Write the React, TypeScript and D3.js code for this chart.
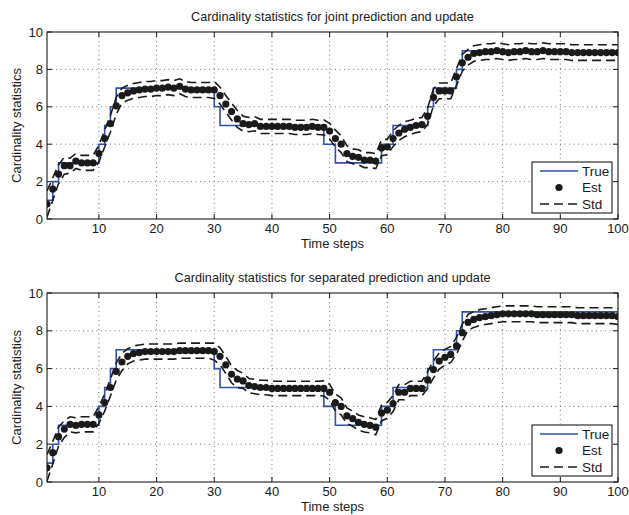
import React, { useRef, useEffect } from "react";
import * as d3 from "d3";

const W = 629;
const H = 515;

// true cardinality (same ground truth in both runs), t = 1..100
const trueCard = [
  1, 2, 3, 3, 3, 3, 3, 3, 3, 4,
  5, 6, 7, 7, 7, 7, 7, 7, 7, 7,
  7, 7, 7, 7, 7, 7, 7, 7, 7, 6,
  5, 5, 5, 5, 5, 5, 5, 5, 5, 5,
  5, 5, 5, 5, 5, 5, 5, 5, 4, 4,
  3, 3, 3, 3, 3, 3, 3, 3, 4, 4,
  5, 5, 5, 5, 5, 5, 6, 7, 7, 7,
  7, 8, 9, 9, 9, 9, 9, 9, 9, 9,
  9, 9, 9, 9, 9, 9, 9, 9, 9, 9,
  9, 9, 9, 9, 9, 9, 9, 9, 9, 9,
];

// joint prediction and update
const estJoint = [
  0.8, 1.6, 2.4, 2.85, 2.85, 3.1, 3.0, 3.0, 3.0, 3.5,
  4.3, 5.1, 6.05, 6.6, 6.75, 6.85, 6.9, 6.95, 6.95, 7.0,
  7.0, 7.05, 7.0, 7.1, 6.95, 6.9, 6.9, 6.9, 6.9, 6.9,
  6.6, 6.15, 5.75, 5.35, 5.1, 5.05, 5.1, 4.95, 4.95, 4.95,
  4.95, 4.95, 4.95, 4.9, 4.9, 4.9, 4.95, 4.9, 4.9, 4.7,
  4.3, 4.0, 3.5, 3.35, 3.3, 3.15, 3.15, 3.1, 3.8, 3.85,
  4.3, 4.6, 4.8, 4.9, 5.0, 5.05, 5.5, 6.5, 6.85, 6.85,
  6.85, 7.6, 8.35, 8.65, 8.85, 8.9, 8.95, 8.95, 9.0, 8.95,
  8.9, 8.95, 8.95, 9.0, 8.95, 8.95, 9.0, 8.95, 8.95, 8.95,
  8.95, 8.9, 8.9, 8.9, 8.9, 8.9, 8.9, 8.9, 8.9, 8.9,
];
const stdJoint = [
  0.7, 0.6, 0.5, 0.45, 0.4, 0.4, 0.4, 0.4, 0.4, 0.45,
  0.45, 0.45, 0.45, 0.4, 0.4, 0.4, 0.4, 0.4, 0.4, 0.4,
  0.4, 0.4, 0.4, 0.4, 0.4, 0.4, 0.4, 0.4, 0.4, 0.45,
  0.45, 0.45, 0.45, 0.45, 0.4, 0.38, 0.38, 0.38, 0.38, 0.38,
  0.38, 0.38, 0.38, 0.38, 0.38, 0.38, 0.38, 0.38, 0.4, 0.42,
  0.45, 0.45, 0.42, 0.4, 0.4, 0.4, 0.4, 0.4, 0.42, 0.42,
  0.42, 0.4, 0.4, 0.38, 0.38, 0.38, 0.45, 0.45, 0.42, 0.42,
  0.42, 0.45, 0.45, 0.42, 0.42, 0.42, 0.42, 0.42, 0.42, 0.42,
  0.42, 0.42, 0.42, 0.42, 0.42, 0.42, 0.42, 0.42, 0.42, 0.42,
  0.42, 0.42, 0.42, 0.42, 0.42, 0.42, 0.42, 0.42, 0.42, 0.42,
];

// separated prediction and update
const estSep = [
  0.75, 1.55, 2.4, 2.8, 3.05, 3.0, 3.05, 3.05, 3.05, 3.55,
  4.2, 5.0, 5.85, 6.35, 6.65, 6.8, 6.85, 6.9, 6.9, 6.9,
  6.9, 6.9, 6.9, 6.95, 6.95, 6.95, 6.95, 6.95, 6.95, 6.9,
  6.65, 6.2, 5.7, 5.45, 5.35, 5.1, 5.05, 5.0, 5.0, 4.95,
  4.95, 4.95, 4.95, 4.95, 4.95, 4.95, 4.95, 4.95, 4.95, 4.75,
  4.2, 4.0, 3.5, 3.35, 3.15, 3.05, 3.0, 2.9, 3.65, 3.8,
  4.15, 4.75, 4.75, 4.95, 4.95, 4.95, 5.4, 5.95, 6.4, 6.6,
  6.75, 7.2, 7.9, 8.45, 8.6, 8.7, 8.75, 8.8, 8.85, 8.9,
  8.9, 8.9, 8.9, 8.9, 8.9, 8.85, 8.85, 8.85, 8.85, 8.85,
  8.85, 8.85, 8.8, 8.8, 8.8, 8.8, 8.8, 8.8, 8.8, 8.75,
];
const stdSep = [
  0.7, 0.6, 0.5, 0.45, 0.4, 0.4, 0.4, 0.4, 0.4, 0.45,
  0.45, 0.45, 0.45, 0.45, 0.4, 0.4, 0.4, 0.4, 0.4, 0.4,
  0.4, 0.4, 0.4, 0.4, 0.4, 0.4, 0.4, 0.4, 0.4, 0.45,
  0.45, 0.45, 0.45, 0.45, 0.4, 0.38, 0.38, 0.38, 0.38, 0.38,
  0.38, 0.38, 0.38, 0.38, 0.38, 0.38, 0.38, 0.38, 0.4, 0.42,
  0.45, 0.45, 0.42, 0.4, 0.4, 0.4, 0.4, 0.4, 0.42, 0.42,
  0.42, 0.4, 0.4, 0.38, 0.38, 0.38, 0.45, 0.45, 0.42, 0.42,
  0.42, 0.45, 0.45, 0.42, 0.42, 0.42, 0.42, 0.42, 0.42, 0.42,
  0.42, 0.42, 0.42, 0.42, 0.42, 0.42, 0.42, 0.42, 0.42, 0.42,
  0.42, 0.42, 0.42, 0.42, 0.42, 0.42, 0.42, 0.42, 0.42, 0.42,
];

const xTicks = [10, 20, 30, 40, 50, 60, 70, 80, 90, 100];
const yTicks = [0, 2, 4, 6, 8, 10];
const titles = [
  "Cardinality statistics for joint prediction and update",
  "Cardinality statistics for separated prediction and update",
];
const legendLabels = ["True", "Est", "Std"];

const FONT = "'Liberation Sans', Arial, Helvetica, sans-serif";
const BLUE = "#2f52ab";
const INK = "#1a1a1a";
const DASH = "9,5";

function drawPanel(svg, idx, est, sd, box) {
  const { left, right, top, bottom } = box;
  const steps = est.map((_, i) => i + 1);
  const x = d3.scaleLinear().domain([1, 100]).range([left, right]);
  const y = d3.scaleLinear().domain([0, 10]).range([bottom, top]);

  const g = svg.append("g");
  const clipId = `clip-${idx}`;
  g.append("clipPath").attr("id", clipId)
    .append("rect").attr("x", left).attr("y", top).attr("width", right - left).attr("height", bottom - top);

  // dotted grid
  const grid = g.append("g").attr("stroke", "#555").attr("stroke-width", 0.8).attr("stroke-dasharray", "1,3.5");
  xTicks.filter(t => t < 100).forEach(t => {
    grid.append("line").attr("x1", x(t)).attr("x2", x(t)).attr("y1", top).attr("y2", bottom);
  });
  yTicks.filter(t => t > 0 && t < 10).forEach(t => {
    grid.append("line").attr("x1", left).attr("x2", right).attr("y1", y(t)).attr("y2", y(t));
  });

  const area = g.append("g").attr("clip-path", `url(#${clipId})`);

  const stair = d3.line().x((d, i) => x(steps[i])).y(d => y(d)).curve(d3.curveStepAfter);
  area.append("path").attr("d", stair(trueCard)).attr("fill", "none")
    .attr("stroke", BLUE).attr("stroke-width", 1.6);

  const line = d3.line().x((d, i) => x(steps[i])).y(d => y(d));
  const upper = est.map((v, i) => v + sd[i]);
  const lower = est.map((v, i) => v - sd[i]);
  [upper, lower].forEach(arr => {
    area.append("path").attr("d", line(arr)).attr("fill", "none")
      .attr("stroke", INK).attr("stroke-width", 1.6).attr("stroke-dasharray", DASH);
  });

  area.selectAll("circle.est").data(est).enter().append("circle")
    .attr("class", "est")
    .attr("cx", (d, i) => x(steps[i]))
    .attr("cy", d => y(d))
    .attr("r", 3.6)
    .attr("fill", INK);

  // frame + inward ticks on all sides
  g.append("rect").attr("x", left).attr("y", top).attr("width", right - left).attr("height", bottom - top)
    .attr("fill", "none").attr("stroke", INK).attr("stroke-width", 1.1);
  const tl = 5;
  xTicks.forEach(t => {
    g.append("line").attr("x1", x(t)).attr("x2", x(t)).attr("y1", bottom).attr("y2", bottom - tl).attr("stroke", INK);
    g.append("line").attr("x1", x(t)).attr("x2", x(t)).attr("y1", top).attr("y2", top + tl).attr("stroke", INK);
    g.append("text").attr("x", x(t)).attr("y", bottom + 14).attr("text-anchor", "middle")
      .attr("font-size", 13).attr("fill", INK).text(t);
  });
  yTicks.forEach(t => {
    g.append("line").attr("x1", left).attr("x2", left + tl).attr("y1", y(t)).attr("y2", y(t)).attr("stroke", INK);
    g.append("line").attr("x1", right).attr("x2", right - tl).attr("y1", y(t)).attr("y2", y(t)).attr("stroke", INK);
    g.append("text").attr("x", left - 4).attr("y", y(t) + 4.6).attr("text-anchor", "end")
      .attr("font-size", 13).attr("fill", INK).text(t);
  });

  g.append("text").attr("x", (left + right) / 2).attr("y", top - 11).attr("text-anchor", "middle")
    .attr("font-size", 12.7).attr("fill", INK).text(titles[idx]);
  g.append("text").attr("x", (left + right) / 2).attr("y", bottom + 29).attr("text-anchor", "middle")
    .attr("font-size", 13).attr("fill", INK).text("Time steps");
  g.append("text").attr("transform", `translate(21,${(top + bottom) / 2}) rotate(-90)`)
    .attr("text-anchor", "middle").attr("font-size", 13).attr("fill", INK).text("Cardinality statistics");

  // legend
  const lx = right - 86, ly = bottom - 57;
  const lg = g.append("g").attr("transform", `translate(${lx},${ly})`);
  lg.append("rect").attr("width", 80).attr("height", 51).attr("fill", "white")
    .attr("stroke", INK).attr("stroke-width", 1.1);
  const rows = [9, 25.5, 42];
  lg.append("line").attr("x1", 8).attr("x2", 46).attr("y1", rows[0]).attr("y2", rows[0])
    .attr("stroke", BLUE).attr("stroke-width", 1.6);
  lg.append("circle").attr("cx", 27).attr("cy", rows[1]).attr("r", 3.6).attr("fill", INK);
  lg.append("line").attr("x1", 8).attr("x2", 46).attr("y1", rows[2]).attr("y2", rows[2])
    .attr("stroke", INK).attr("stroke-width", 1.6).attr("stroke-dasharray", DASH);
  legendLabels.forEach((lab, i) => {
    lg.append("text").attr("x", 50).attr("y", rows[i] + 4.8).attr("font-size", 13.5).attr("fill", INK).text(lab);
  });
}

export default function App() {
  const svgRef = useRef(null);

  useEffect(() => {
    const svg = d3.select(svgRef.current);
    svg.selectAll("*").remove();
    svg.attr("font-family", FONT);
    svg.append("rect").attr("width", W).attr("height", H).attr("fill", "white");
    drawPanel(svg, 0, estJoint, stdJoint, { left: 47, right: 618, top: 32, bottom: 219 });
    drawPanel(svg, 1, estSep, stdSep, { left: 47, right: 618, top: 293, bottom: 482 });
  }, []);

  return (
    <svg ref={svgRef} width={W} height={H}
      style={{ position: "absolute", left: 0, top: 0, display: "block" }} />
  );
}
